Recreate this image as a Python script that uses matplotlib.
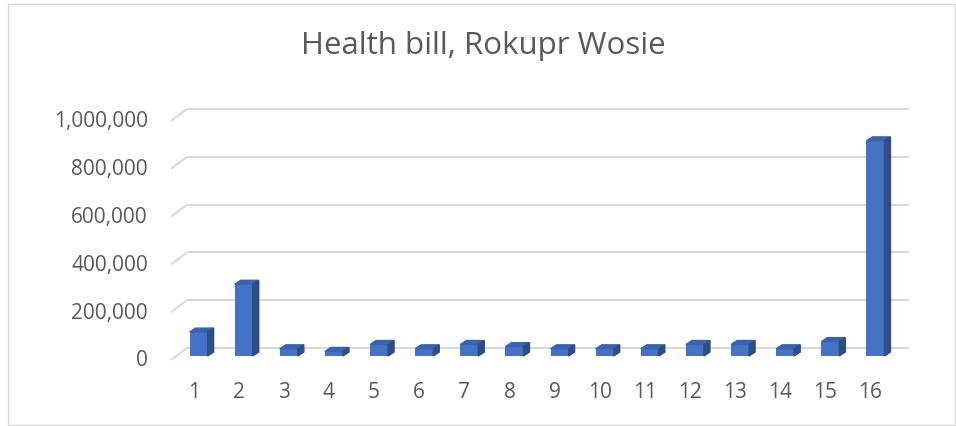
import matplotlib.pyplot as plt
from matplotlib.patches import Polygon, Rectangle

# --- Data ---
categories = list(range(1, 17))
values = [100000, 300000, 30000, 19000, 48000, 30000, 48000, 39000,
          30000, 30000, 30000, 48000, 48000, 30000, 60000, 900000]
y_ticks = [0, 200000, 400000, 600000, 800000, 1000000]

# --- Figure / axes (fixed pixel layout) ---
W, H = 956, 427
fig = plt.figure(figsize=(W / 100, H / 100), dpi=100)
plt.rcParams['font.family'] = ['Open Sans', 'DejaVu Sans']

left_px, right_px = 176, 898
bottom_px, top_px = 357, 118
ax = fig.add_axes([left_px / W, 1 - bottom_px / H,
                   (right_px - left_px) / W, (bottom_px - top_px) / H])
ax.set_xlim(0.5, 16.5)
ax.set_ylim(0, 1000000)
ax.set_xticks([])
ax.set_yticks([])
for s in ax.spines.values():
    s.set_visible(False)

# pixel -> data unit conversion
ux = 16 / (right_px - left_px)
uy = 1000000 / (bottom_px - top_px)

grid_col = '#d9d9d9'
text_col = '#595959'
# back wall gridlines plus the diagonal floor edge on the left
bx, by = 11 * ux, 8 * uy
fx, fy = -5 * ux, -4 * uy
x0, x1 = ax.get_xlim()
for t in y_ticks:
    ax.plot([x0 + bx, x1 + bx], [t + by, t + by], color=grid_col, lw=1.5,
            solid_capstyle='butt', zorder=1, clip_on=False)
    ax.plot([x0 + fx, x0 + bx], [t + fy, t + by], color=grid_col, lw=1.5,
            solid_capstyle='butt', zorder=1, clip_on=False)
    ax.text(x0 + fx - 23 * ux, t + fy, f"{t:,}", ha='right', va='center',
            fontsize=15, color=text_col, clip_on=False)

# --- 3D-looking bars ---
front_col = '#4472c4'
top_col = '#3a63ad'
side_col = '#2c4d88'
bw = 0.4
ddx, ddy = 6 * ux, 4 * uy
bars = ax.bar(categories, values, width=bw, color=front_col, zorder=3)
for b in bars:
    xl = b.get_x()
    xr = xl + b.get_width()
    h = b.get_height()
    ax.add_patch(Polygon([(xl, h), (xr, h), (xr + ddx, h + ddy), (xl + ddx, h + ddy)],
                         closed=True, color=top_col, zorder=3, clip_on=False))
    ax.add_patch(Polygon([(xr, 0), (xr + ddx, ddy), (xr + ddx, h + ddy), (xr, h)],
                         closed=True, color=side_col, zorder=3, clip_on=False))

# --- Category labels ---
for c in categories:
    ax.text(c + fx, -36 * uy, str(c), ha='center', va='center',
            fontsize=15, color=text_col, clip_on=False)

# --- Title ---
fig.text(483 / W, 1 - 46 / H, "Health bill, Rokupr Wosie", ha='center', va='center',
         fontsize=22.5, color=text_col)

# --- Chart border ---
fig.patches.append(Rectangle((8 / W, 1 - 426 / H), 947 / W, 421 / H,
                             transform=fig.transFigure, fill=False,
                             edgecolor='#d9d9d9', lw=1))

plt.savefig("out.png", dpi=100)
